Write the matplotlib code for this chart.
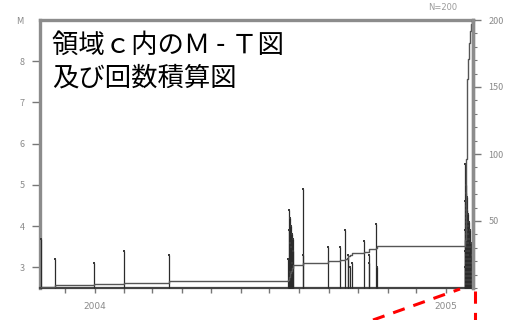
import numpy as np
import matplotlib
matplotlib.use('Agg')
import matplotlib.pyplot as plt
import matplotlib.dates as mdates
from matplotlib.lines import Line2D
from matplotlib.ticker import MultipleLocator

plt.rcParams['font.family'] = ['Noto Sans CJK JP', 'DejaVu Sans']

# 地震データ（図から読み取った概算値）
early_dates = ['2003-11-06', '2003-11-21', '2003-12-31', '2004-02-01', '2004-03-18',
               '2004-07-20', '2004-07-21', '2004-07-21', '2004-07-22', '2004-07-22',
               '2004-07-22', '2004-07-23', '2004-07-23', '2004-07-24', '2004-07-24',
               '2004-07-25', '2004-07-25', '2004-08-05', '2004-08-05', '2004-08-31',
               '2004-09-12', '2004-09-18', '2004-09-21', '2004-09-21', '2004-09-23',
               '2004-09-25', '2004-10-07', '2004-10-13', '2004-10-13', '2004-10-20',
               '2004-10-21']
early_mags = [3.7, 3.2, 3.1, 3.4, 3.3,
              3.2, 4.4, 3.9, 4.2, 3.6,
              2.9, 4.0, 3.5, 3.8, 3.1,
              3.7, 3.4, 4.9, 3.3, 3.5,
              3.5, 3.9, 3.3, 3.2, 3.0,
              3.1, 3.65, 3.3, 3.1, 4.05,
              3.0]

# 2005年1月下旬の群発（日ごと）
cluster_days = ['2005-01-21', '2005-01-22', '2005-01-23', '2005-01-24',
                '2005-01-25', '2005-01-26', '2005-01-27', '2005-01-28']
cluster_mags = [
    [5.5, 4.6, 3.9, 3.4, 3.0],
    [5.0, 4.8, 4.4, 4.3, 4.2, 4.2, 4.1, 4.0, 4.0, 3.9,
     3.9, 3.8, 3.8, 3.7, 3.7, 3.7, 3.6, 3.6, 3.5, 3.5,
     3.5, 3.4, 3.4, 3.4, 3.3, 3.3, 3.3, 3.2, 3.2, 3.2,
     3.1, 3.1, 3.1, 3.0, 3.0, 3.0, 3.0, 2.9, 2.9, 2.9,
     2.9, 2.8, 2.8, 2.8, 2.8, 2.7, 2.7, 2.7, 2.7, 2.7,
     2.6, 2.6, 2.6, 2.6, 2.6, 4.5, 3.6, 3.2, 2.9, 2.8],
    [4.7, 4.4, 4.3, 4.1, 4.0, 3.9, 3.8, 3.8, 3.7, 3.7,
     3.6, 3.6, 3.5, 3.5, 3.5, 3.4, 3.4, 3.4, 3.3, 3.3,
     3.3, 3.2, 3.2, 3.2, 3.2, 3.1, 3.1, 3.1, 3.1, 3.0,
     3.0, 3.0, 3.0, 2.9, 2.9, 2.9, 2.9, 2.9, 2.8, 2.8,
     2.8, 2.8, 2.8, 2.7, 2.7, 2.7, 2.7, 2.7, 2.6, 2.6,
     2.6, 2.6, 2.6, 2.6, 3.9, 3.4, 3.0, 2.8, 2.7, 2.6],
    [4.3, 4.0, 3.8, 3.6, 3.5, 3.3, 3.2, 3.1, 3.0, 2.9, 2.8, 2.7, 2.7, 2.6, 2.6],
    [4.1, 3.7, 3.4, 3.2, 3.1, 3.0, 2.9, 2.8, 2.7, 2.7, 2.6, 2.6],
    [3.9, 3.5, 3.2, 3.0, 2.9, 2.8, 2.7, 2.6, 2.6],
    [3.6, 3.1, 2.9, 2.7, 2.6],
    [3.3, 2.8, 2.6],
]

x_start = np.datetime64('2003-11-05')
x_end = np.datetime64('2005-01-29')
m_min, m_max = 2.5, 9.0

# 配列にまとめる
dates = list(early_dates)
mags = list(early_mags)
for d, ms in zip(cluster_days, cluster_mags):
    dates += [d] * len(ms)
    mags += ms
dates = np.array(dates, dtype='datetime64[D]')
mags = np.array(mags)
counts = np.arange(1, len(mags) + 1)

fig = plt.figure(figsize=(5.2, 3.2), dpi=100)
ax = fig.add_axes([40 / 520, 32 / 320, 433 / 520, 268 / 320])
ax2 = ax.twinx()

# M-T図（縦棒）
ax.vlines(dates, m_min, mags, color='#2b2b2b', lw=0.9, zorder=3, clip_on=False)
ax.scatter(dates, mags, s=3, marker='s', color='#3a3a3a', lw=0, zorder=3, clip_on=False)
ax.set_ylim(m_min, m_max)
ax.set_xlim(x_start, x_end)

# 回数積算図
step_x = np.concatenate([[x_start], dates, [x_end]])
step_y = np.concatenate([[0], counts, [counts[-1]]])
ax2.step(step_x, step_y, where='post', color='#555555', lw=1.0)
ax2.set_ylim(0, 200)

# 軸の書式
for side in ('left', 'top', 'right'):
    ax.spines[side].set_color('#8c8c8c')
    ax.spines[side].set_linewidth(2.4)
ax.spines['bottom'].set_color('#444444')
ax.spines['bottom'].set_linewidth(1.6)
for side in ('left', 'top', 'bottom'):
    ax2.spines[side].set_visible(False)
ax2.spines['right'].set_color('#8c8c8c')
ax2.spines['right'].set_linewidth(2.4)

ax.set_yticks([3, 4, 5, 6, 7, 8])
ax.tick_params(axis='y', direction='out', length=6, width=1, color='#777777',
               labelcolor='#8a8a8a', labelsize=6.5, pad=5)
ax.xaxis.set_major_locator(mdates.MonthLocator())
ax.xaxis.set_major_formatter(mdates.DateFormatter(''))
ax.tick_params(axis='x', direction='out', length=3.5, width=1, color='#777777',
               labelcolor='#8a8a8a', labelsize=6.5, pad=7)
for lab, d in [('2004', '2004-01-01'), ('2005', '2005-01-01')]:
    ax.text(np.datetime64(d), -0.07, lab, transform=ax.get_xaxis_transform(),
            ha='center', va='center', fontsize=6.5, color='#8a8a8a',
            family=['DejaVu Sans'])

ax2.set_yticks([50, 100, 150, 200])
ax2.yaxis.set_minor_locator(MultipleLocator(10))
ax2.tick_params(axis='y', which='major', direction='out', length=6, width=1,
                color='#777777', labelcolor='#8a8a8a', labelsize=6.5, pad=5)
ax2.tick_params(axis='y', which='minor', direction='out', length=3, width=0.8,
                color='#777777')

fig.text(20 / 520, 1 - 21 / 320, 'M', ha='center', va='center',
         fontsize=6, color='#8a8a8a', family=['DejaVu Sans'])
fig.text(443 / 520, 1 - 8 / 320, 'N=200', ha='center', va='center',
         fontsize=6, color='#9a9a9a', family=['DejaVu Sans'])

# タイトル
fig.text(52 / 520, 1 - 45 / 320, '領域ｃ内のＭ - Ｔ図', ha='left', va='center',
         fontsize=19, color='black')
fig.text(52 / 520, 1 - 78 / 320, '及び回数積算図', ha='left', va='center',
         fontsize=19, color='black')

# 拡大部分を示す赤い破線
fig.add_artist(Line2D([373 / 520, 460 / 520], [1 - 320 / 320, 1 - 289 / 320],
                      color='red', lw=2.2, ls=(0, (4, 3)), transform=fig.transFigure))
fig.add_artist(Line2D([475 / 520, 475 / 520], [1 - 291 / 320, 0],
                      color='red', lw=2.2, ls=(0, (4, 3)), transform=fig.transFigure))

fig.savefig('out.png', dpi=100)
